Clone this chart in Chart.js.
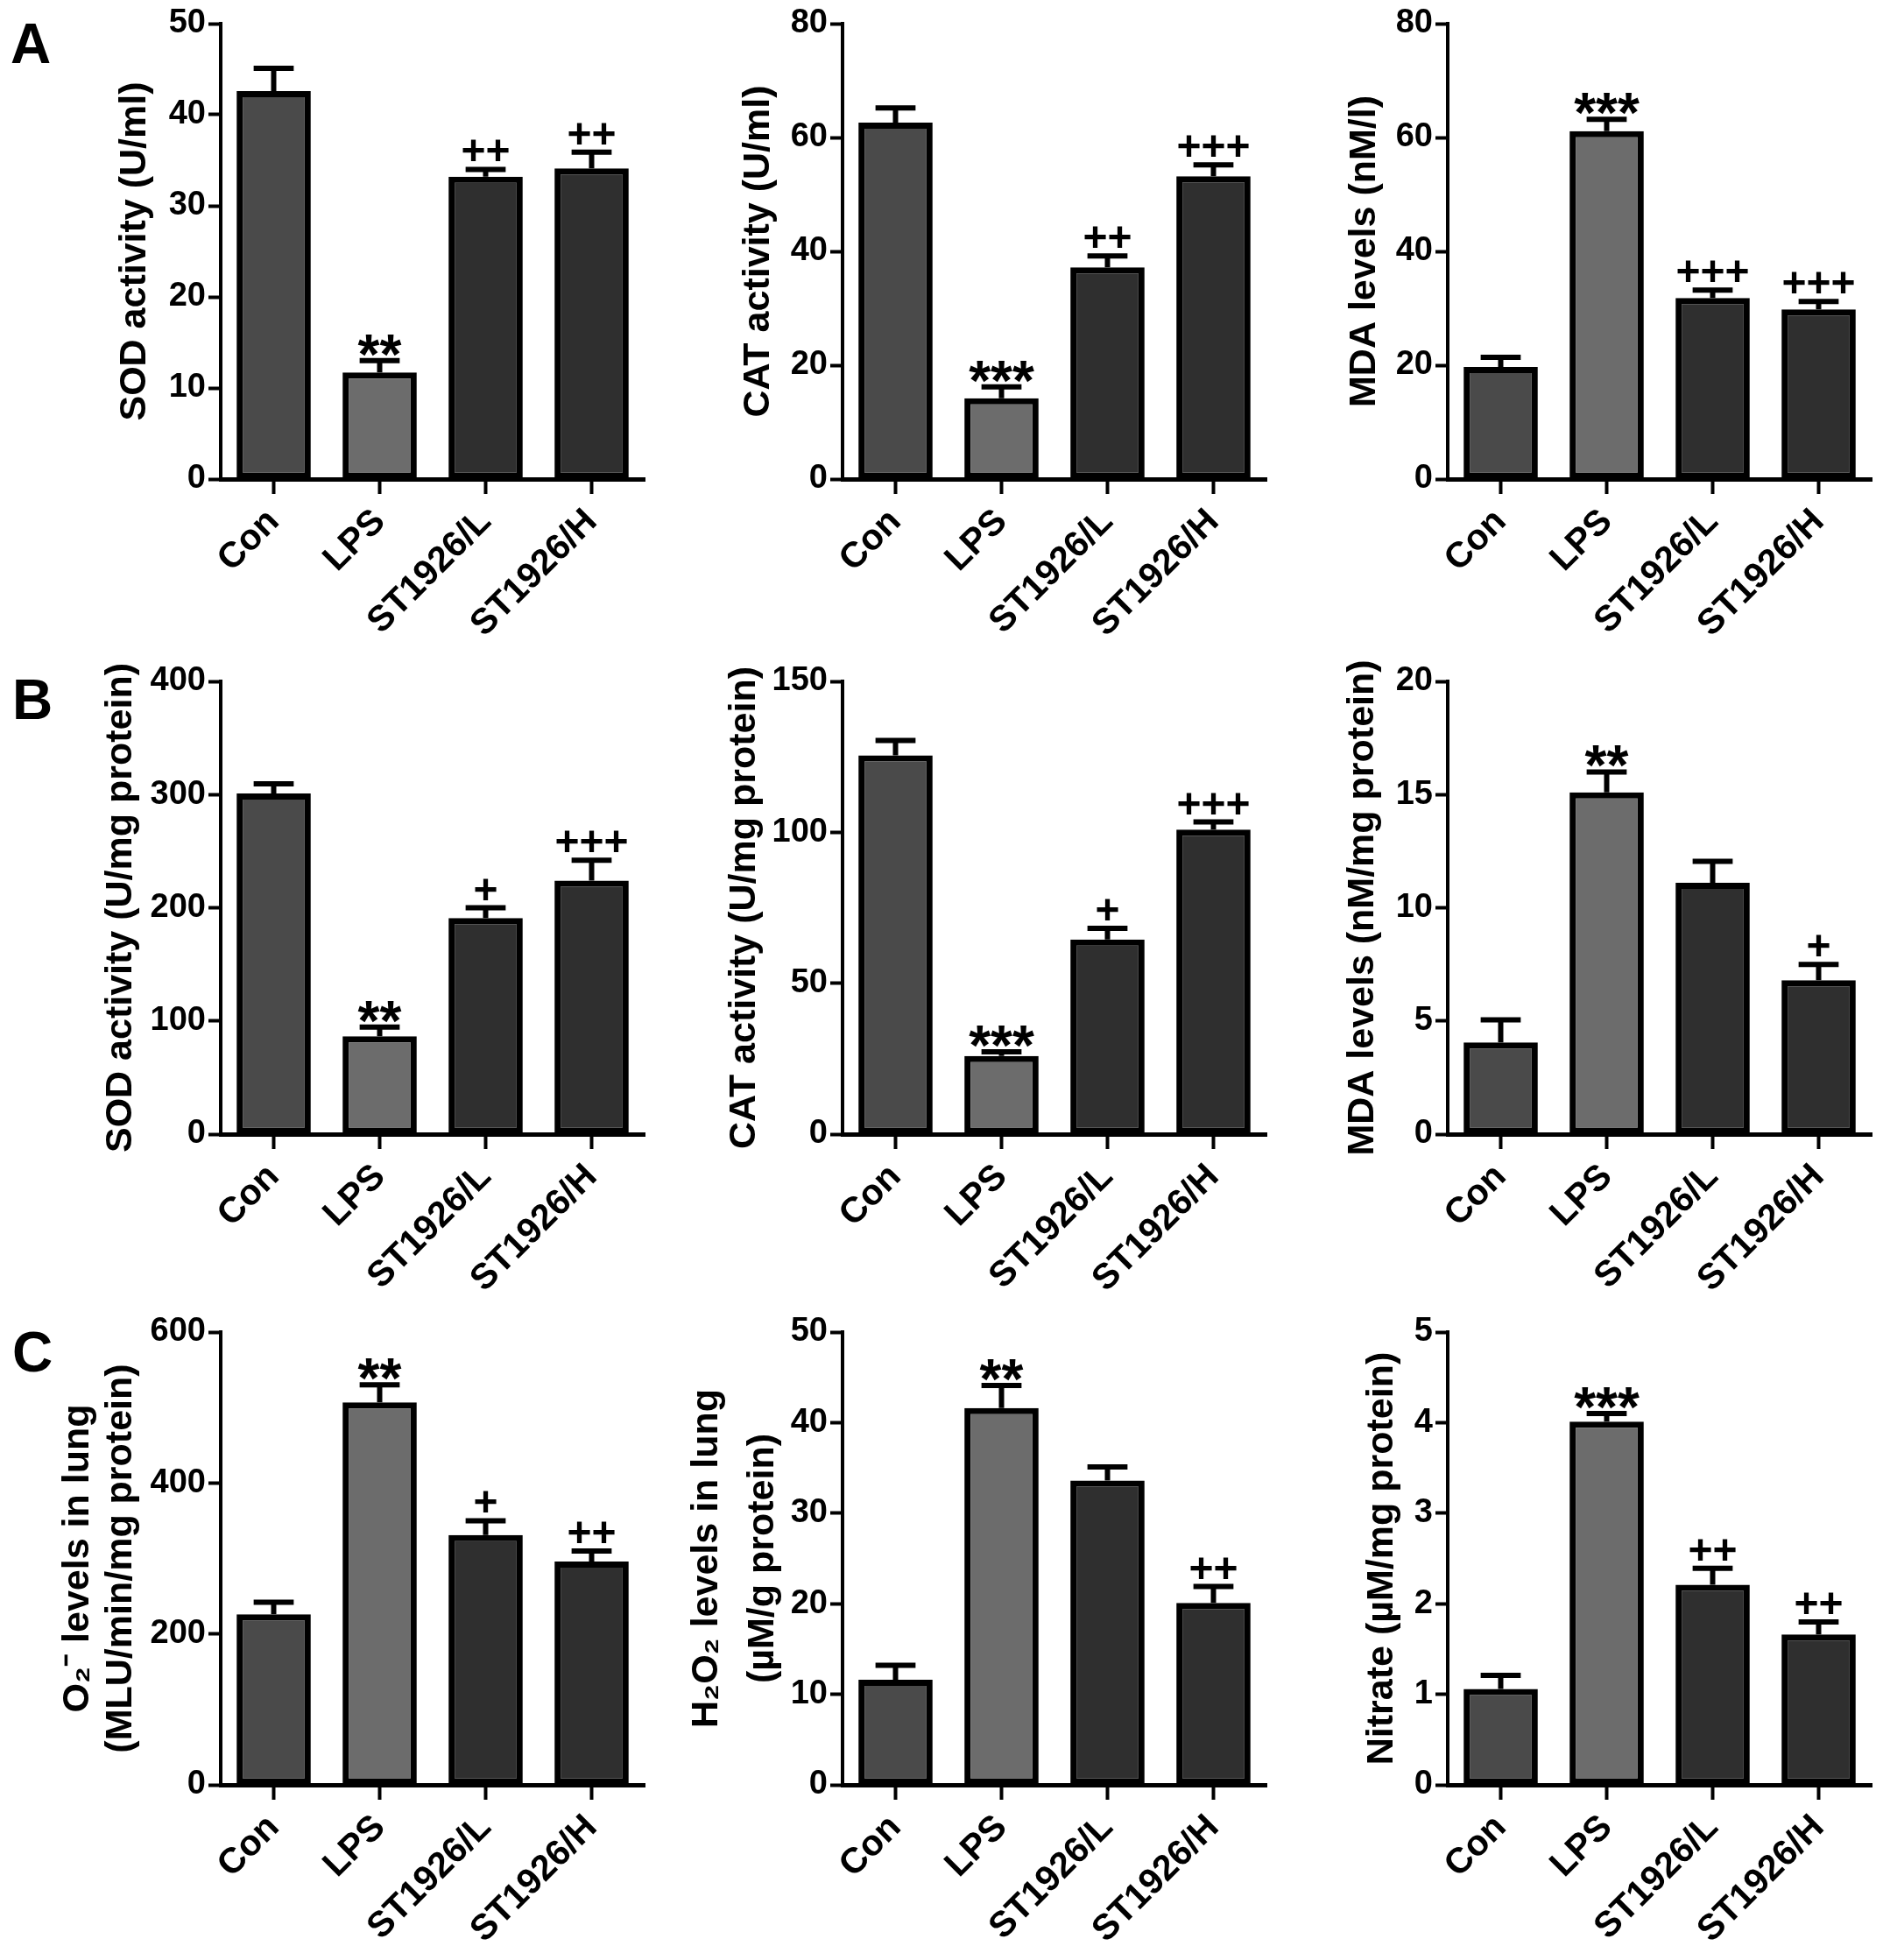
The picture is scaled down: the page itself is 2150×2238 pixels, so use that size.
<!DOCTYPE html>
<html>
<head>
<meta charset="utf-8">
<script src="https://cdn.jsdelivr.net/npm/chart.js@4.4.1/dist/chart.umd.min.js"></script>
<style>
  body { margin: 0; background: #fff; width: 2150px; height: 2238px; position: relative; overflow: hidden; }
  canvas { position: absolute; }
  .letter { position: absolute; font-family: 'Liberation Sans', Arial, sans-serif; font-weight: bold; font-size: 64px; line-height: 1; color: #000; }
</style>
</head>
<body>
<div class="letter" style="left:12px;top:18px">A</div>
<div class="letter" style="left:14px;top:767px">B</div>
<div class="letter" style="left:14px;top:1512px">C</div>

<script>
const groups = ['Con', 'LPS', 'ST1926/L', 'ST1926/H'];
const barColors = ['#4a4a4a', '#6c6c6c', '#2f2f2f', '#2f2f2f'];

// A - serum
const sodSerumMean = [42.6, 11.7, 33.2, 34.1];
const sodSerumSem = [2.5, 1.3, 0.8, 1.8];
const sodSerumMarks = ['', '**', '++', '++'];
const sodSerumTicks = [0, 10, 20, 30, 40, 50];

const catSerumMean = [62.6, 14.2, 37.2, 53.2];
const catSerumSem = [2.6, 2.0, 2.0, 2.0];
const catSerumMarks = ['', '***', '++', '+++'];
const catSerumTicks = [0, 20, 40, 60, 80];

const mdaSerumMean = [19.7, 61.1, 31.8, 29.8];
const mdaSerumSem = [1.7, 2.1, 1.4, 1.4];
const mdaSerumMarks = ['', '***', '+++', '+++'];
const mdaSerumTicks = [0, 20, 40, 60, 80];

// B - lung tissue
const sodLungMean = [301, 86.5, 191, 224];
const sodLungSem = [8.5, 8, 9, 18];
const sodLungMarks = ['', '**', '+', '+++'];
const sodLungTicks = [0, 100, 200, 300, 400];

const catLungMean = [125.5, 25.9, 64.5, 100.9];
const catLungSem = [4.9, 1.4, 3.7, 2.5];
const catLungMarks = ['', '***', '+', '+++'];
const catLungTicks = [0, 50, 100, 150];

const mdaLungMean = [4.05, 15.1, 11.1, 6.8];
const mdaLungSem = [1.0, 0.9, 0.95, 0.7];
const mdaLungMarks = ['', '**', '', '+'];
const mdaLungTicks = [0, 5, 10, 15, 20];

// C - ROS / RNS in lung
const o2Mean = [226, 507, 331, 296];
const o2Sem = [16, 23, 19, 14];
const o2Marks = ['', '**', '+', '++'];
const o2Ticks = [0, 200, 400, 600];

const h2o2Mean = [11.6, 41.6, 33.6, 20.1];
const h2o2Sem = [1.6, 2.5, 1.5, 1.8];
const h2o2Marks = ['', '**', '', '++'];
const h2o2Ticks = [0, 10, 20, 30, 40, 50];

const nitrateMean = [1.06, 4.01, 2.21, 1.66];
const nitrateSem = [0.15, 0.09, 0.18, 0.14];
const nitrateMarks = ['', '***', '++', '++'];
const nitrateTicks = [0, 1, 2, 3, 4, 5];

Chart.defaults.font.family = "'Liberation Sans', Arial, sans-serif";
Chart.defaults.font.weight = 'bold';
Chart.defaults.color = '#000';

// SEM whiskers (upper only) with significance marks on top
const errorBars = {
  id: 'errorBars',
  afterDatasetsDraw(chart, args, opts) {
    const ctx = chart.ctx;
    const yScale = chart.scales.y;
    const values = chart.data.datasets[0].data;
    const meta = chart.getDatasetMeta(0);
    ctx.save();
    ctx.strokeStyle = '#000';
    ctx.fillStyle = '#000';
    ctx.lineWidth = 6;
    meta.data.forEach((bar, i) => {
      const top = yScale.getPixelForValue(values[i] + opts.sem[i]);
      const half = bar.width * 0.27;
      ctx.beginPath();
      ctx.moveTo(bar.x, bar.y);
      ctx.lineTo(bar.x, top);
      ctx.moveTo(bar.x - half, top);
      ctx.lineTo(bar.x + half, top);
      ctx.stroke();
      const mark = opts.marks[i];
      if (mark) {
        const star = mark[0] === '*';
        ctx.font = star ? "bold 64px 'Liberation Sans', Arial" : "bold 48px 'Liberation Sans', Arial";
        ctx.textAlign = 'center';
        ctx.textBaseline = 'alphabetic';
        ctx.fillText(mark, bar.x, star ? top + 15 : top - 5);
      }
    });
    ctx.restore();
  }
};

const panels = [
  { mean: sodSerumMean, sem: sodSerumSem, marks: sodSerumMarks, ticks: sodSerumTicks, title: 'SOD activity (U/ml)',
    axisX: 252, top: 27, bottom: 547, titleOff: 98, lh: 1.2 },
  { mean: catSerumMean, sem: catSerumSem, marks: catSerumMarks, ticks: catSerumTicks, title: 'CAT activity (U/ml)',
    axisX: 962, top: 27, bottom: 547, titleOff: 96, lh: 1.2 },
  { mean: mdaSerumMean, sem: mdaSerumSem, marks: mdaSerumMarks, ticks: mdaSerumTicks, title: 'MDA levels (nM/l)',
    axisX: 1653, top: 27, bottom: 547, titleOff: 95, lh: 1.2 },
  { mean: sodLungMean, sem: sodLungSem, marks: sodLungMarks, ticks: sodLungTicks, title: 'SOD activity (U/mg protein)',
    axisX: 252, top: 778, bottom: 1295, titleOff: 114, lh: 1.2 },
  { mean: catLungMean, sem: catLungSem, marks: catLungMarks, ticks: catLungTicks, title: 'CAT activity (U/mg protein)',
    axisX: 962, top: 778, bottom: 1295, titleOff: 112, lh: 1.2 },
  { mean: mdaLungMean, sem: mdaLungSem, marks: mdaLungMarks, ticks: mdaLungTicks, title: 'MDA levels (nM/mg protein)',
    axisX: 1653, top: 778, bottom: 1295, titleOff: 97, lh: 1.2 },
  { mean: o2Mean, sem: o2Sem, marks: o2Marks, ticks: o2Ticks, title: ['O\u2082\u207B levels in lung', '(MLU/min/mg protein)'],
    axisX: 252, top: 1521, bottom: 2038, titleOff: 163, lh: 1.14 },
  { mean: h2o2Mean, sem: h2o2Sem, marks: h2o2Marks, ticks: h2o2Ticks, title: ['H\u2082O\u2082 levels in lung', '(\u00B5M/g protein)'],
    axisX: 962, top: 1521, bottom: 2038, titleOff: 155, lh: 1.5 },
  { mean: nitrateMean, sem: nitrateSem, marks: nitrateMarks, ticks: nitrateTicks, title: 'Nitrate (\u00B5M/mg protein)',
    axisX: 1653, top: 1521, bottom: 2038, titleOff: 75, lh: 1.2 }
];

const CAT_W = 121;
const Y_BOX = 260;
const PAD_TOP = 40;
const PAD_RIGHT = 12;
const X_BOX = 195;

panels.forEach(p => {
  const plotW = CAT_W * groups.length;
  const plotH = p.bottom - p.top;
  const canvas = document.createElement('canvas');
  const w = Math.round(Y_BOX + plotW + PAD_RIGHT);
  const h = Math.round(PAD_TOP + plotH + X_BOX);
  canvas.width = w;
  canvas.height = h;
  canvas.style.width = w + 'px';
  canvas.style.height = h + 'px';
  canvas.style.left = (p.axisX - Y_BOX) + 'px';
  canvas.style.top = (p.top - PAD_TOP) + 'px';
  document.body.appendChild(canvas);

  const titleSize = 43;
  const titlePad = Y_BOX - p.titleOff - titleSize * p.lh / 2;

  new Chart(canvas.getContext('2d'), {
    type: 'bar',
    data: {
      labels: groups,
      datasets: [{
        data: p.mean,
        backgroundColor: barColors,
        borderColor: '#000',
        borderWidth: 7,
        borderSkipped: false,
        barPercentage: 0.7,
        categoryPercentage: 1
      }]
    },
    options: {
      responsive: false,
      animation: false,
      devicePixelRatio: 1,
      layout: { padding: { top: PAD_TOP, right: PAD_RIGHT, left: 0, bottom: 0 } },
      plugins: {
        legend: { display: false },
        tooltip: { enabled: false },
        errorBars: { sem: p.sem, marks: p.marks }
      },
      scales: {
        x: {
          grid: { offset: false, drawOnChartArea: false, drawTicks: true, tickLength: 17, tickWidth: 4, tickColor: '#000' },
          border: { display: true, color: '#000', width: 5 },
          ticks: { font: { size: 41, weight: 'bold' }, color: '#000', minRotation: 45, maxRotation: 45, autoSkip: false, padding: 8 },
          afterFit: s => { s.height = X_BOX; }
        },
        y: {
          min: p.ticks[0],
          max: p.ticks[p.ticks.length - 1],
          afterBuildTicks: s => { s.ticks = p.ticks.map(v => ({ value: v })); },
          grid: { drawOnChartArea: false, drawTicks: true, tickLength: 14, tickWidth: 4, tickColor: '#000' },
          border: { display: true, color: '#000', width: 4 },
          ticks: { font: { size: 38, weight: 'bold' }, color: '#000', padding: 3 },
          title: {
            display: true,
            text: p.title,
            color: '#000',
            font: { size: titleSize, weight: 'bold', lineHeight: p.lh },
            padding: { top: titlePad, bottom: 0 }
          },
          afterFit: s => { s.width = Y_BOX; }
        }
      }
    },
    plugins: [errorBars]
  });
});
</script>
</body>
</html>
